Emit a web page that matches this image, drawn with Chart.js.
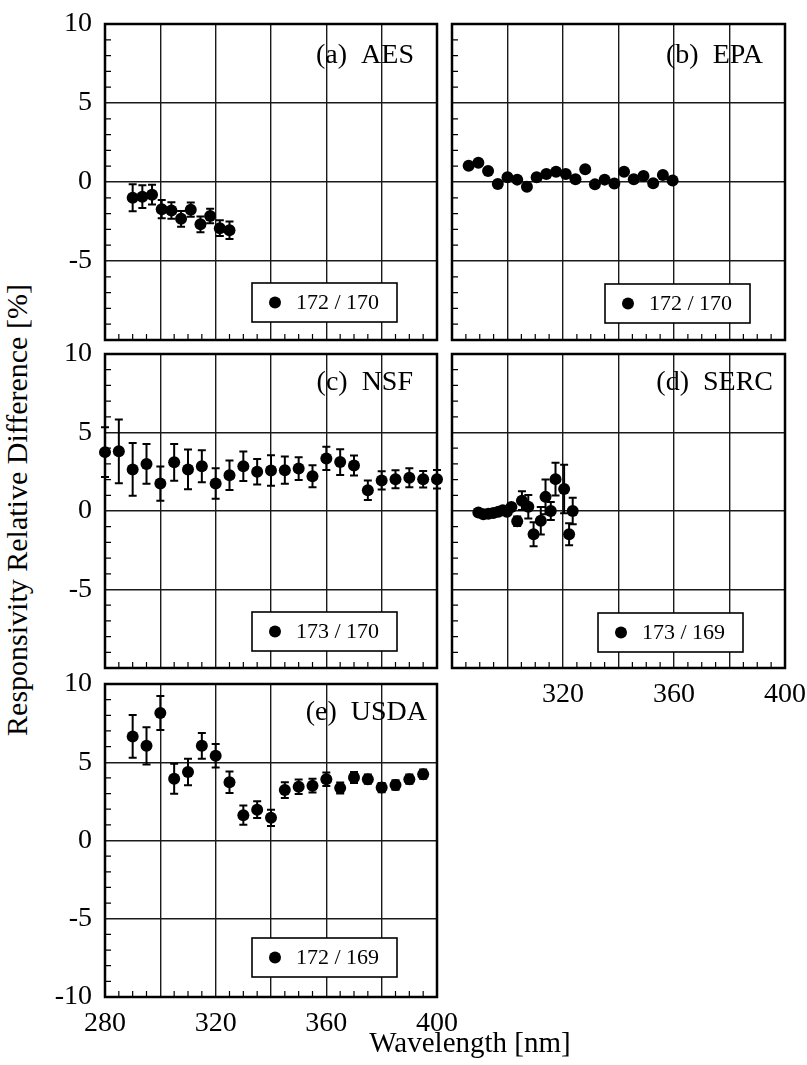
<!DOCTYPE html>
<html>
<head>
<meta charset="utf-8">
<title>Responsivity Relative Difference</title>
<script src="https://cdn.jsdelivr.net/npm/chart.js@4.4.0/dist/chart.umd.min.js"></script>
<style>
  html, body { margin: 0; padding: 0; background: #fff; }
  #fig {
    position: relative;
    width: 807px;
    height: 1065px;
    overflow: hidden;
    font-family: "Liberation Serif", "Times New Roman", serif;
    color: #000;
  }
  #fig canvas { position: absolute; }
  .ytitle {
    position: absolute;
    left: -233px;
    top: 493px;
    width: 500px;
    height: 34px;
    line-height: 34px;
    font-size: 30px;
    text-align: center;
    white-space: nowrap;
    transform: rotate(-90deg);
  }
  .xtitle {
    position: absolute;
    left: 270px;
    top: 1025px;
    width: 400px;
    height: 34px;
    line-height: 34px;
    font-size: 29px;
    text-align: center;
    white-space: nowrap;
  }
</style>
</head>
<body>
<div id="fig">
  <canvas id="chartA" width="430" height="360" style="left:40px; top:0px"></canvas>
  <canvas id="chartB" width="362" height="360" style="left:445px; top:0px"></canvas>
  <canvas id="chartC" width="430" height="400" style="left:40px; top:330px"></canvas>
  <canvas id="chartD" width="362" height="400" style="left:445px; top:330px"></canvas>
  <canvas id="chartE" width="430" height="380" style="left:40px; top:660px"></canvas>
  <div class="ytitle">Responsivity Relative Difference [%]</div>
  <div class="xtitle">Wavelength [nm]</div>
</div>

<script>
// --- Data ---

// (a) AES
const aesWl = [290, 293.5, 297, 300.5, 304, 307.5, 311, 314.5, 318, 321.5, 325];
const aesVal = [-1.0, -0.93, -0.8, -1.72, -1.8, -2.33, -1.75, -2.68, -2.15, -2.92, -3.05];
const aesErr = [0.85, 0.72, 0.62, 0.58, 0.52, 0.5, 0.45, 0.5, 0.46, 0.5, 0.55];

// (b) EPA (no error bars)
const epaWl = [286, 289.5, 293, 296.5, 300, 303.5, 307, 310.5, 314, 317.5, 321,
  324.5, 328, 331.5, 335, 338.5, 342, 345.5, 349, 352.5, 356, 359.5];
const epaVal = [1.03, 1.22, 0.7, -0.12, 0.3, 0.15, -0.3, 0.3, 0.5, 0.65, 0.5,
  0.18, 0.8, -0.15, 0.15, -0.1, 0.65, 0.18, 0.38, -0.08, 0.45, 0.1];

// (c) NSF
const nsfWl = [280, 285, 290, 295, 300, 305, 310, 315, 320, 325, 330, 335, 340,
  345, 350, 355, 360, 365, 370, 375, 380, 385, 390, 395, 400];
const nsfVal = [3.75, 3.8, 2.65, 3.0, 1.75, 3.1, 2.65, 2.85, 1.75, 2.28, 2.85, 2.5, 2.58,
  2.6, 2.7, 2.22, 3.35, 3.12, 2.9, 1.32, 1.95, 2.02, 2.12, 2.02, 2.02];
const nsfErr = [1.58, 2.03, 1.68, 1.26, 1.09, 1.17, 1.27, 1.02, 0.97, 0.94, 0.94, 0.82, 0.97,
  0.87, 0.73, 0.7, 0.74, 0.82, 0.64, 0.62, 0.58, 0.57, 0.61, 0.52, 0.59];

// (d) SERC
const sercWl = [289.5, 291.3, 293.1, 294.9, 296.7, 298.3, 299.8, 301.4,
  303.5, 305.2, 307.5, 309.4, 312, 313.7, 315.6, 317.3, 320.4, 322.2, 323.5];
const sercVal = [-0.1, -0.2, -0.18, -0.13, -0.05, 0.05, -0.05, 0.25,
  -0.65, 0.66, 0.27, -1.48, -0.62, 0.9, 0.0, 2.03, 1.4, -1.48, 0.0];
const sercErr = [0.15, 0.15, 0.15, 0.15, 0.15, 0.15, 0.15, 0.15,
  0.3, 0.6, 0.75, 0.77, 0.88, 1.1, 0.57, 1.04, 1.54, 0.7, 0.85];

// (e) USDA
const usdaWl = [290, 295, 300, 305, 310, 315, 320, 325, 330, 335, 340,
  345, 350, 355, 360, 365, 370, 375, 380, 385, 390, 395];
const usdaVal = [6.65, 6.05, 8.15, 3.95, 4.38, 6.05, 5.42, 3.72, 1.62, 1.97, 1.45,
  3.22, 3.43, 3.5, 3.92, 3.35, 4.02, 3.92, 3.38, 3.55, 3.92, 4.24];
const usdaErr = [1.37, 1.19, 1.09, 0.96, 0.85, 0.82, 0.75, 0.69, 0.61, 0.54, 0.52,
  0.5, 0.46, 0.44, 0.43, 0.35, 0.35, 0.3, 0.3, 0.3, 0.3, 0.3];

// tick labels
const xLabelsBottom = [280, 320, 360, 400];
const xLabelsRight = [320, 360, 400];
const yLabelsFull = [10, 5, 0, -5, -10];
const yLabelsUpper = [10, 5, 0, -5];

// --- Panels ---

const panels = [
  { id: "chartA", title: "(a)  AES", legend: "172 / 170", wl: aesWl, val: aesVal, err: aesErr,
    xLabels: [], yLabels: yLabelsUpper },
  { id: "chartB", title: "(b)  EPA", legend: "172 / 170", wl: epaWl, val: epaVal, err: null,
    xLabels: [], yLabels: [] },
  { id: "chartC", title: "(c)  NSF", legend: "173 / 170", wl: nsfWl, val: nsfVal, err: nsfErr,
    xLabels: [], yLabels: yLabelsUpper },
  { id: "chartD", title: "(d)  SERC", legend: "173 / 169", wl: sercWl, val: sercVal, err: sercErr,
    xLabels: xLabelsRight, yLabels: [] },
  { id: "chartE", title: "(e)  USDA", legend: "172 / 169", wl: usdaWl, val: usdaVal, err: usdaErr,
    xLabels: xLabelsBottom, yLabels: yLabelsFull },
];

// where each plot box sits inside its canvas, and where its labels go
const layout = {
  chartA: { left: 65, right: 33, top: 24, bottom: 20, titleInset: 23, titleDrop: 39, boxRight: 40, boxBottom: 18 },
  chartB: { left: 7, right: 22, top: 24, bottom: 20, titleInset: 22, titleDrop: 39, boxRight: 35, boxBottom: 17 },
  chartC: { left: 65, right: 33, top: 24, bottom: 62, titleInset: 24, titleDrop: 36, boxRight: 40, boxBottom: 17 },
  chartD: { left: 7, right: 22, top: 24, bottom: 62, titleInset: 12, titleDrop: 36, boxRight: 42, boxBottom: 16 },
  chartE: { left: 65, right: 33, top: 24, bottom: 43, titleInset: 10, titleDrop: 36, boxRight: 40, boxBottom: 20 },
};

const SERIF = "'Liberation Serif', 'Times New Roman', serif";

// --- Plugins ---

// box round the plot and the small inward ticks on the left and bottom edges
const frame = {
  id: "frame",
  beforeDatasetsDraw(chart) {
    const { ctx, chartArea: a } = chart;
    const x = chart.scales.x;
    const y = chart.scales.y;
    ctx.save();
    ctx.strokeStyle = "#000";
    ctx.lineWidth = 1.2;
    ctx.beginPath();
    for (let v = -9; v <= 9; v++) {
      if (v % 5 === 0) continue;
      const py = y.getPixelForValue(v);
      ctx.moveTo(a.left, py);
      ctx.lineTo(a.left + 6, py);
    }
    for (let w = 285; w < 400; w += 5) {
      if ((w - 280) % 20 === 0) continue;
      const px = x.getPixelForValue(w);
      ctx.moveTo(px, a.bottom);
      ctx.lineTo(px, a.bottom - 6);
    }
    ctx.stroke();
    ctx.lineWidth = 2.5;
    ctx.strokeRect(a.left, a.top, a.right - a.left, a.bottom - a.top);
    ctx.restore();
  },
};

const errorBars = {
  id: "errorBars",
  beforeDatasetsDraw(chart) {
    const { ctx } = chart;
    const x = chart.scales.x;
    const y = chart.scales.y;
    chart.data.datasets.forEach((ds) => {
      if (!ds.errors) return;
      ctx.save();
      ctx.strokeStyle = "#000";
      ctx.lineWidth = 2;
      ctx.beginPath();
      ds.data.forEach((p, i) => {
        const e = ds.errors[i];
        const px = x.getPixelForValue(p.x);
        const top = y.getPixelForValue(p.y + e);
        const bot = y.getPixelForValue(p.y - e);
        ctx.moveTo(px, top);
        ctx.lineTo(px, bot);
        ctx.moveTo(px - 4, top);
        ctx.lineTo(px + 4, top);
        ctx.moveTo(px - 4, bot);
        ctx.lineTo(px + 4, bot);
      });
      ctx.stroke();
      ctx.restore();
    });
  },
};

// panel name at top right and the boxed legend at bottom right
const panelText = {
  id: "panelText",
  afterDraw(chart, args, opts) {
    const { ctx, chartArea: a } = chart;
    ctx.save();
    ctx.fillStyle = "#000";
    ctx.font = "28px " + SERIF;
    ctx.textAlign = "right";
    ctx.textBaseline = "alphabetic";
    ctx.fillText(opts.title, a.right - opts.titleInset, a.top + opts.titleDrop);

    const bw = 145;
    const bh = 39;
    const bx = a.right - opts.boxRight - bw;
    const by = a.bottom - opts.boxBottom - bh;
    ctx.fillStyle = "#fff";
    ctx.fillRect(bx, by, bw, bh);
    ctx.strokeStyle = "#000";
    ctx.lineWidth = 1.6;
    ctx.strokeRect(bx, by, bw, bh);

    ctx.fillStyle = "#000";
    ctx.beginPath();
    ctx.arc(bx + 23, by + bh / 2, 6, 0, Math.PI * 2);
    ctx.fill();
    ctx.font = "22px " + SERIF;
    ctx.textAlign = "left";
    ctx.textBaseline = "middle";
    ctx.fillText(opts.legend, bx + 44, by + bh / 2 + 1);
    ctx.restore();
  },
};

// --- Charts ---

function makeChart(p) {
  const lay = layout[p.id];
  const points = p.wl.map((w, i) => ({ x: w, y: p.val[i] }));

  return new Chart(document.getElementById(p.id), {
    type: "scatter",
    data: {
      datasets: [
        {
          data: points,
          errors: p.err,
          pointRadius: 6,
          pointBackgroundColor: "#000",
          pointBorderWidth: 0,
          clip: false,
        },
      ],
    },
    options: {
      responsive: false,
      animation: false,
      devicePixelRatio: 1,
      events: [],
      layout: {
        padding: { top: lay.top, right: lay.right, left: 0, bottom: 0 },
      },
      plugins: {
        legend: { display: false },
        tooltip: { enabled: false },
        panelText: {
          title: p.title,
          legend: p.legend,
          titleInset: lay.titleInset,
          titleDrop: lay.titleDrop,
          boxRight: lay.boxRight,
          boxBottom: lay.boxBottom,
        },
      },
      scales: {
        x: {
          type: "linear",
          min: 280,
          max: 400,
          ticks: {
            stepSize: 20,
            display: p.xLabels.length > 0,
            autoSkip: false,
            maxRotation: 0,
            padding: 10,
            color: "#000",
            font: { family: SERIF, size: 28 },
            callback: (v) => (p.xLabels.includes(v) ? String(v) : ""),
          },
          grid: { color: "#1a1a1a", lineWidth: 1.4, drawTicks: false },
          border: { display: false },
          afterFit: (s) => {
            s.height = lay.bottom;
            s.paddingLeft = 0;
            s.paddingRight = 0;
          },
        },
        y: {
          type: "linear",
          min: -10,
          max: 10,
          ticks: {
            stepSize: 5,
            display: p.yLabels.length > 0,
            padding: 13,
            color: "#000",
            font: { family: SERIF, size: 28 },
            callback: (v) => (p.yLabels.includes(v) ? String(v) : ""),
          },
          grid: { color: "#1a1a1a", lineWidth: 1.4, drawTicks: false },
          border: { display: false },
          afterFit: (s) => {
            s.width = lay.left;
            s.paddingTop = 0;
            s.paddingBottom = 0;
          },
        },
      },
    },
    plugins: [frame, errorBars, panelText],
  });
}

panels.forEach(makeChart);
</script>
</body>
</html>
